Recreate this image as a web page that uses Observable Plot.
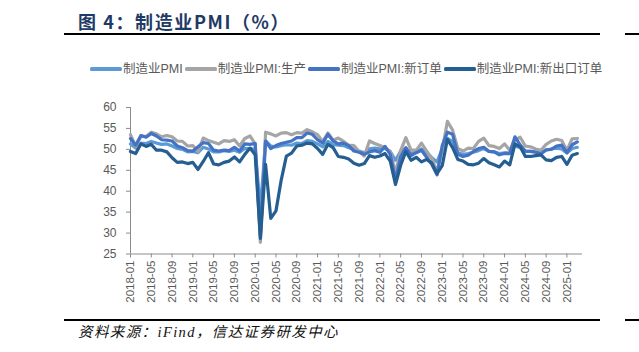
<!DOCTYPE html>
<html>
<head>
<meta charset="utf-8">
<script src="https://cdn.jsdelivr.net/npm/d3@7"></script>
<script src="https://cdn.jsdelivr.net/npm/@observablehq/plot@0.6"></script>
<style>
  html, body { margin: 0; padding: 0; background: #fff; }
  body { width: 639px; height: 352px; position: relative; overflow: hidden; }
  .abs { position: absolute; }
  .title { left: 78px; top: 8px; font-family: "Noto Sans CJK SC", sans-serif; font-weight: 700;
           font-size: 18px; letter-spacing: 1.6px; color: #1f3a64; white-space: nowrap; line-height: 26px; }
  .rule { background: #000; height: 2px; }
  .legend { left: 90px; top: 61px; display: flex; align-items: center; white-space: nowrap;
            font-family: "Liberation Sans", "Noto Sans CJK SC", sans-serif; font-size: 12.5px; color: #595959; line-height: 16px; }
  .legend .item { display: flex; align-items: center; margin-right: 2px; }
  .legend .sw { width: 32px; height: 3.5px; margin-right: 1px; border-radius: 1.5px; }
  .caption { left: 78px; top: 323px; font-family: "Liberation Serif", "Noto Sans CJK SC", serif; font-style: italic;
             font-size: 14.5px; letter-spacing: 1.4px; color: #111; white-space: nowrap; line-height: 18px; }
  #chart { left: 0; top: 95px; }
</style>
</head>
<body>
<div class="abs title">图 4：制造业PMI（%）</div>
<div class="abs rule" style="left:64px; top:33px; width:536px"></div>
<div class="abs rule" style="left:625px; top:33px; width:14px"></div>
<div class="abs legend" id="legend"></div>
<div class="abs" id="chart"></div>
<div class="abs rule" style="left:64px; top:319px; width:536px"></div>
<div class="abs rule" style="left:625px; top:319px; width:14px"></div>
<div class="abs caption">资料来源：iFind，信达证券研发中心</div>
<script>
// Series names and colours
const seriesNames = ["制造业PMI", "制造业PMI:生产", "制造业PMI:新订单", "制造业PMI:新出口订单"];
const seriesColors = ["#5B9BD5", "#A5A5A5", "#4472C4", "#255E91"];

// Monthly values, 2018-01 .. 2025-03
const pmi = [
  51.3, 50.3, 51.5, 51.4, 51.9, 51.5, 51.2, 51.3, 50.8, 50.2, 50.0, 49.4,
  49.5, 49.2, 50.5, 50.1, 49.4, 49.4, 49.7, 49.5, 49.8, 49.3, 50.2, 50.2,
  50.0, 35.7, 52.0, 50.8, 50.6, 50.9, 51.1, 51.0, 51.5, 51.4, 52.1, 51.9,
  51.3, 50.6, 51.9, 51.1, 51.0, 50.9, 50.4, 50.1, 49.6, 49.2, 50.1, 50.3,
  50.1, 50.2, 49.5, 47.4, 49.6, 50.2, 49.0, 49.4, 50.1, 49.2, 48.0, 47.0,
  50.1, 52.6, 51.9, 49.2, 48.8, 49.0, 49.3, 49.7, 50.2, 49.5, 49.4, 49.0,
  49.2, 49.1, 50.8, 50.4, 49.5, 49.5, 49.4, 49.1, 49.8, 50.1, 50.3, 50.1,
  49.1, 50.2, 50.5
];
const production = [
  53.5, 50.7, 53.1, 53.1, 54.1, 53.7, 53.0, 53.3, 53.0, 52.0, 51.9, 50.8,
  50.9, 49.5, 52.7, 52.1, 51.7, 51.3, 52.1, 51.9, 52.3, 50.8, 52.6, 53.2,
  51.3, 27.8, 54.1, 53.7, 53.2, 53.9, 54.0, 53.5, 54.0, 53.9, 54.7, 54.2,
  53.5, 51.9, 53.9, 52.2, 52.7, 51.9, 51.0, 50.9, 49.5, 48.4, 52.0, 51.4,
  50.9, 50.4, 49.5, 44.4, 49.7, 52.8, 49.8, 49.8, 51.5, 49.6, 47.8, 44.6,
  49.8, 56.7, 54.6, 50.2, 49.6, 50.3, 50.2, 51.9, 52.7, 50.9, 50.7, 50.2,
  51.3, 49.8, 52.2, 52.9, 50.8, 50.6, 50.1, 49.8, 51.2, 52.0, 52.4, 52.1,
  49.8, 52.5, 52.6
];
const newOrders = [
  52.6, 51.0, 53.3, 52.9, 53.8, 53.2, 52.3, 52.2, 52.0, 50.8, 50.4, 49.7,
  49.6, 50.6, 51.6, 51.4, 49.8, 49.6, 49.8, 49.7, 50.5, 49.6, 51.3, 51.2,
  51.4, 29.3, 52.0, 50.2, 50.9, 51.4, 51.7, 52.0, 52.8, 52.8, 53.9, 53.6,
  52.3, 51.5, 53.6, 52.0, 51.3, 51.5, 50.9, 49.6, 49.3, 48.8, 49.4, 49.7,
  49.3, 50.7, 48.8, 42.6, 48.2, 50.4, 48.5, 49.2, 49.8, 48.1, 46.4, 43.9,
  50.9, 54.1, 53.6, 48.8, 48.3, 48.6, 49.5, 50.2, 50.5, 49.5, 49.4, 48.7,
  49.0, 49.0, 53.0, 51.1, 49.6, 49.5, 49.3, 48.9, 49.9, 50.0, 50.8, 51.0,
  49.2, 51.1, 51.8
];
const exportOrders = [
  49.5, 49.0, 51.3, 50.7, 51.2, 49.8, 49.8, 49.4, 48.0, 46.9, 47.0, 46.6,
  46.9, 45.2, 47.1, 49.2, 46.5, 46.3, 46.9, 47.2, 48.2, 47.0, 48.8, 50.3,
  48.7, 28.7, 46.4, 33.5, 35.3, 42.6, 48.4, 49.1, 50.8, 51.0, 51.5, 51.3,
  50.2, 48.8, 51.2, 50.4, 48.3, 48.1, 47.7, 46.7, 46.2, 46.6, 48.5, 48.1,
  48.4, 49.0, 47.2, 41.6, 46.2, 49.5, 47.4, 48.1, 47.0, 47.6, 46.7, 44.2,
  46.1, 52.4, 50.4, 47.6, 47.2, 46.4, 46.3, 46.7, 47.8, 46.8, 46.3, 45.8,
  47.2, 46.3, 51.3, 50.6, 48.3, 48.3, 48.5, 48.7, 47.5, 47.3, 48.1, 48.3,
  46.4, 48.6, 49.0
];

// Axis tick labels
const xTickLabels = [
  "2018-01","2018-05","2018-09","2019-01","2019-05","2019-09","2020-01","2020-05","2020-09",
  "2021-01","2021-05","2021-09","2022-01","2022-05","2022-09","2023-01","2023-05","2023-09",
  "2024-01","2024-05","2024-09","2025-01"
];
const yTicks = [25, 30, 35, 40, 45, 50, 55, 60];

// Month categories
const fmt = d3.utcFormat("%Y-%m");
const months = d3.utcMonths(new Date(Date.UTC(2018, 0, 1)), new Date(Date.UTC(2025, 3, 1))).map(fmt);

const seriesValues = [pmi, production, newOrders, exportOrders];
const data = [];
seriesValues.forEach((vals, s) => {
  vals.forEach((v, i) => data.push({ i, month: months[i], series: seriesNames[s], value: v }));
});

const xTickIdx = xTickLabels.map(l => months.indexOf(l));

// Legend
const legendEl = document.getElementById("legend");
seriesNames.forEach((name, k) => {
  const it = document.createElement("div");
  it.className = "item";
  it.innerHTML = `<span class="sw" style="background:${seriesColors[k]}"></span><span>${name}</span>`;
  legendEl.appendChild(it);
});

const svgTop = 95;
const svgH = 220;
const chart = Plot.plot({
  width: 639,
  height: svgH,
  marginTop: 107 - svgTop,
  marginBottom: svgH - (253.5 - svgTop),
  marginLeft: 130,
  marginRight: 57,
  style: { fontFamily: "Liberation Sans, Arial, sans-serif", background: "transparent", overflow: "visible" },
  x: { type: "linear", domain: [0, months.length], axis: null },
  y: { domain: [25, 60], axis: null },
  color: { domain: seriesNames, range: seriesColors },
  marks: [
    Plot.ruleY([25], { stroke: "#8c8c8c", strokeWidth: 1 }),
    Plot.ruleX([0], { stroke: "#8c8c8c", strokeWidth: 1 }),
    Plot.axisY({ ticks: yTicks, tickSize: 4, tickPadding: 10, fontSize: 12, stroke: "#8c8c8c", fill: "#595959", label: null }),
    Plot.axisX({
      ticks: xTickIdx, tickFormat: i => months[i], tickRotate: -90, tickSize: 4, tickPadding: 2.5,
      fontSize: 11.5, stroke: "#8c8c8c", fill: "#595959", label: null
    }),
    Plot.line(data, {
      x: "i", y: "value", z: "series", stroke: "series",
      strokeWidth: 3.2, strokeLinejoin: "round", strokeLinecap: "round"
    })
  ]
});
document.getElementById("chart").appendChild(chart);
</script>
</body>
</html>
